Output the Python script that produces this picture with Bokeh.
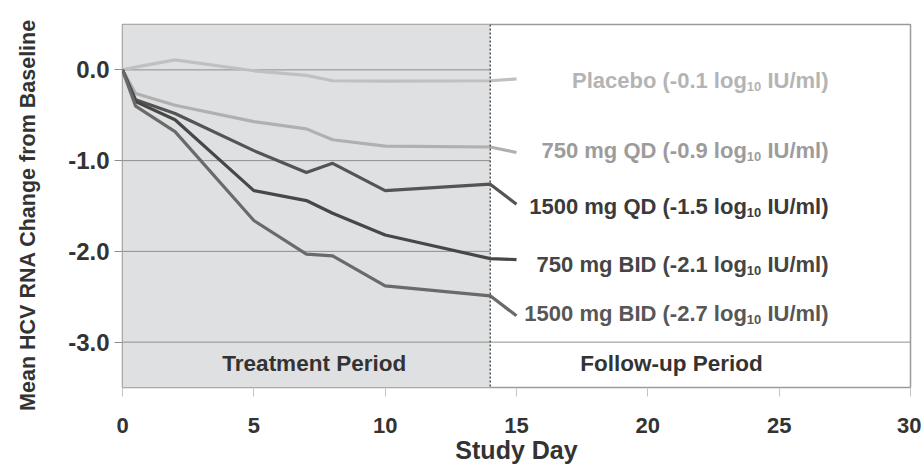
from bokeh.plotting import figure
from bokeh.models import Range1d, FixedTicker, PrintfTickFormatter, BoxAnnotation, Span, ColumnDataSource
from bokeh.core.properties import value
from bokeh.embed import file_html
from bokeh.resources import INLINE

# ---------------- data ----------------
days = [0, 0.5, 2, 5, 7, 8, 10, 14, 15]
placebo = [0, 0.03, 0.11, -0.01, -0.06, -0.12, -0.125, -0.12, -0.10]
qd750 = [0, -0.26, -0.39, -0.57, -0.65, -0.77, -0.84, -0.85, -0.91]
qd1500 = [0, -0.33, -0.48, -0.89, -1.13, -1.03, -1.33, -1.26, -1.48]
bid750 = [0, -0.35, -0.55, -1.33, -1.44, -1.58, -1.82, -2.08, -2.09]
bid1500 = [0, -0.40, -0.68, -1.66, -2.03, -2.05, -2.38, -2.49, -2.71]

series_names = ["Placebo", "750 mg QD", "1500 mg QD", "750 mg BID", "1500 mg BID"]
series_changes = ["-0.1", "-0.9", "-1.5", "-2.1", "-2.7"]
label_y = [-0.12, -0.89, -1.51, -2.14, -2.69]
label_x_end = 26.88

x_ticks = [0, 5, 10, 15, 20, 25, 30]
y_ticks = [0, -1, -2, -3]
grid_y = [0, -1, -2, -3]
grid_x_end = [14, 14, 14, 30]

period_names = ["Treatment Period", "Follow-up Period"]
period_x = [7.3, 20.9]
period_y = [-3.24, -3.24]
treatment_start = 0
treatment_end = 14

x_title = "Study Day"
y_title = "Mean HCV RNA Change from Baseline"

# ---------------- styles ----------------
FONT = "Liberation Sans"
line_colors = ["#c0c0c0", "#b0b0b0", "#545454", "#474747", "#6a6a6a"]
text_colors = ["#b4b4b4", "#9c9c9c", "#3a3a3a", "#454545", "#575757"]
MAIN_SIZE = 22
SUB_SIZE = 13
SUB_DROP = 0.066

BOLD_W = {' ': 278, '\u00a0': 278, '(': 333, ')': 333, '-': 333, '.': 278, '/': 278,
          'B': 722, 'D': 722, 'I': 278, 'P': 667, 'Q': 778, 'U': 722,
          'a': 556, 'b': 611, 'c': 556, 'e': 556, 'g': 611, 'l': 278, 'm': 889, 'o': 611}


def text_w(s, size):
    return sum(BOLD_W.get(c, 556) for c in s) * size / 1000.0


all_series = [placebo, qd750, qd1500, bid750, bid1500]

p = figure(width=921, height=470, x_range=Range1d(0, 30), y_range=Range1d(-3.5, 0.5),
           output_backend="svg", toolbar_location=None,
           min_border_left=122, min_border_right=11, min_border_top=24, min_border_bottom=83)
p.grid.visible = False
p.background_fill_color = "white"
p.border_fill_color = "white"
p.outline_line_color = "#9a9a9a"
p.outline_line_width = 1.5

# treatment shading
p.add_layout(BoxAnnotation(left=treatment_start, right=treatment_end, fill_color="#dfe0e2",
                           fill_alpha=1.0, line_color=None, level="underlay"))

# gridlines
p.segment(x0=[0] * len(grid_y), y0=grid_y, x1=grid_x_end, y1=grid_y,
          line_color="#8e8e8e", line_width=1)

# series lines
for vals, col in zip(all_series, line_colors):
    p.line(days, vals, line_color=col, line_width=3.2)

# dotted divider
p.add_layout(Span(location=treatment_end, dimension="height", line_color="#555555",
                  line_width=1.5, line_dash="2 2"))

# labels with subscripts
part1 = [f"{n} ({c} log" for n, c in zip(series_names, series_changes)]
sub = ["10"] * len(series_names)
part3 = ["\u00a0IU/ml)"] * len(series_names)
w3 = [text_w(s, MAIN_SIZE) for s in part3]
wsub = [text_w(s, SUB_SIZE) for s in sub]
xs = [label_x_end] * len(series_names)

src3 = ColumnDataSource(dict(x=xs, y=label_y, t=part3, c=text_colors, off=[0] * len(xs)))
srcs = ColumnDataSource(dict(x=xs, y=[v - SUB_DROP for v in label_y], t=sub, c=text_colors,
                             off=[-a for a in w3]))
src1 = ColumnDataSource(dict(x=xs, y=label_y, t=part1, c=text_colors,
                             off=[-(a + b) for a, b in zip(w3, wsub)]))
for src, size in ((src3, MAIN_SIZE), (srcs, SUB_SIZE), (src1, MAIN_SIZE)):
    p.text(x="x", y="y", text="t", text_color="c", x_offset="off", source=src,
           text_align="right", text_baseline="middle", text_font=value(FONT),
           text_font_style="bold", text_font_size=f"{size}px")

# period labels
p.text(x=period_x, y=period_y, text=period_names, text_align="center", text_baseline="middle",
       text_font=value(FONT), text_font_style="bold", text_font_size="22.5px", text_color="#333333")

# axes
xa = p.xaxis[0]
xa.ticker = FixedTicker(ticks=x_ticks)
xa.axis_line_color = None
xa.major_tick_line_color = "#c4c4c4"
xa.major_tick_out = 9
xa.major_tick_in = 0
xa.minor_tick_line_color = None
xa.major_label_text_font = FONT
xa.major_label_text_font_size = "22px"
xa.major_label_text_font_style = "bold"
xa.major_label_text_color = "#333333"
xa.major_label_standoff = 21
xa.axis_label = x_title
xa.axis_label_text_font = FONT
xa.axis_label_text_font_size = "25px"
xa.axis_label_text_font_style = "bold"
xa.axis_label_text_color = "#333333"
xa.axis_label_standoff = 0

ya = p.yaxis[0]
ya.ticker = FixedTicker(ticks=y_ticks)
ya.formatter = PrintfTickFormatter(format="%.1f")
ya.axis_line_color = None
ya.major_tick_line_color = "#8e8e8e"
ya.major_tick_out = 8
ya.major_tick_in = 0
ya.minor_tick_line_color = None
ya.major_label_text_font = FONT
ya.major_label_text_font_size = "24px"
ya.major_label_text_font_style = "bold"
ya.major_label_text_color = "#333333"
ya.major_label_standoff = 5
ya.axis_label = y_title + "\u00a0" * 3
ya.axis_label_text_font = FONT
ya.axis_label_text_font_size = "21.5px"
ya.axis_label_text_font_style = "bold"
ya.axis_label_text_color = "#333333"
ya.axis_label_standoff = 25

open("out.html", "w").write(file_html(p, INLINE))
